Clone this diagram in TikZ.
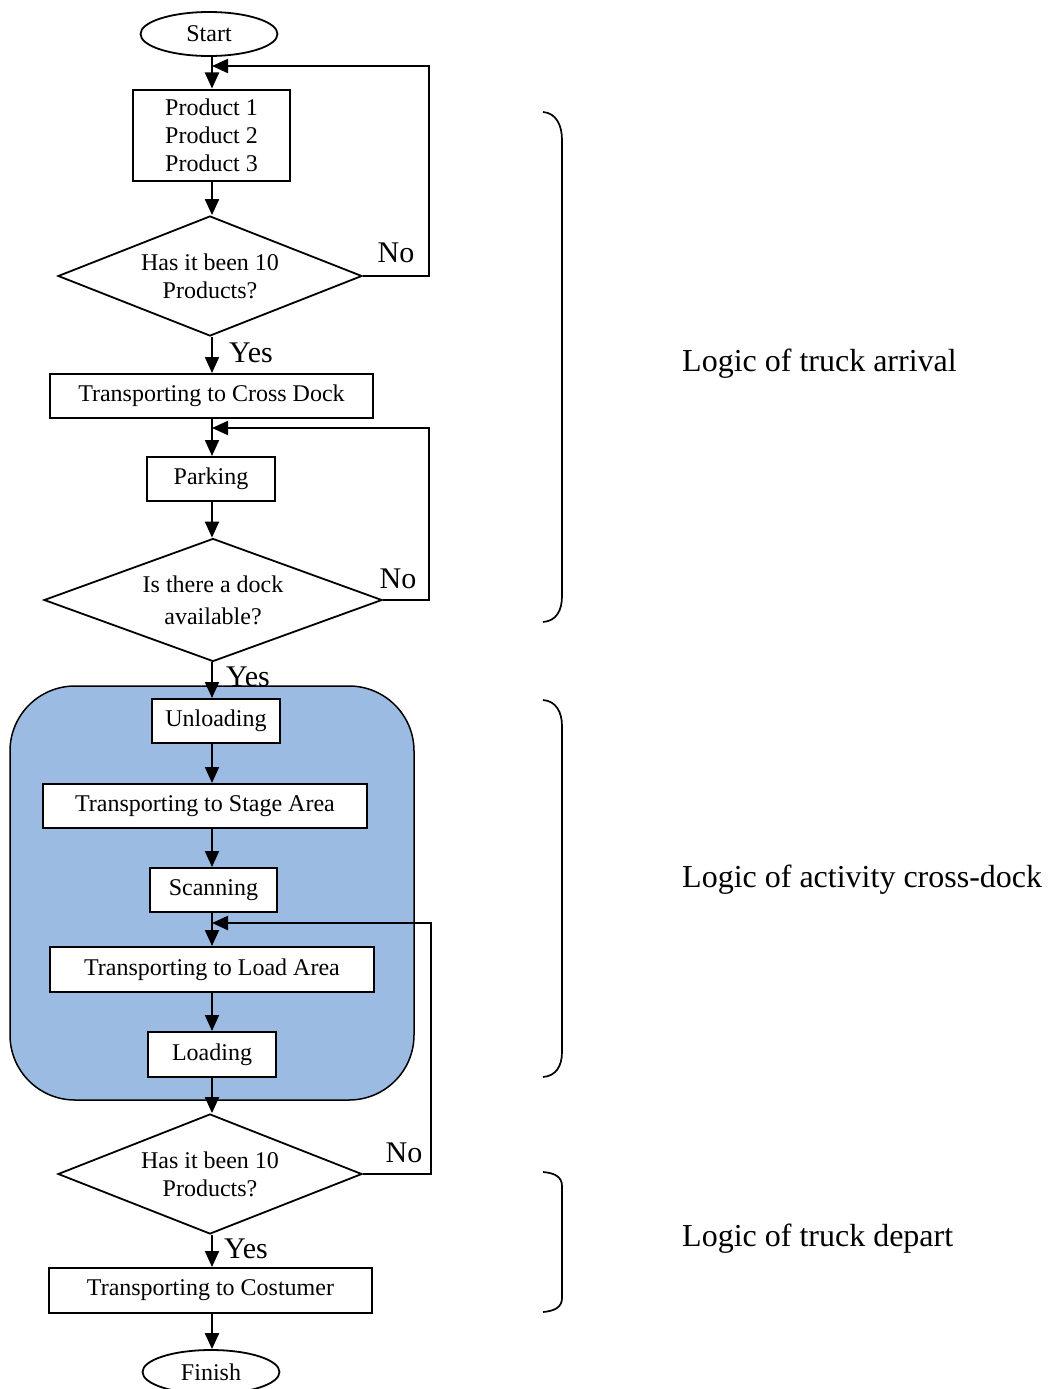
\documentclass[tikz,border=0pt]{standalone}
\usepackage{fontspec}
\setmainfont{Liberation Serif}
\usetikzlibrary{shapes.geometric,arrows.meta}
\definecolor{zoneblue}{HTML}{9BBBE3}

\tikzset{
  box/.style={draw, line width=2pt, fill=white, inner sep=0pt, align=center,
    font=\fontsize{24}{28}\selectfont},
  decision/.style={diamond, draw, line width=1.8pt, fill=white, inner sep=0pt,
    align=center, font=\fontsize{24}{28}\selectfont},
  terminal/.style={ellipse, draw, line width=1.8pt, fill=white, inner sep=0pt,
    minimum width=137pt, minimum height=44pt, font=\fontsize{24}{26}\selectfont},
  flow/.style={line width=2.1pt, -{Triangle[length=16pt,width=14pt]}},
  answer/.style={font=\fontsize{30}{32}\selectfont, inner sep=0pt},
  logic/.style={font=\fontsize{32}{34}\selectfont, anchor=west, inner sep=0pt},
  bracket/.style={line width=1.7pt},
  zone/.style={draw, line width=1.5pt, fill=zoneblue, rounded corners=65pt,
    minimum width=404pt, minimum height=414pt}
}

\begin{document}
\begin{tikzpicture}[x=1pt, y=-1pt]
\useasboundingbox (0,0) rectangle (1048,1389);

% cross-dock activity zone
\node[zone] (zone) at (212,893) {};

% flow nodes
\node[terminal] (start) at (209,34) {Start};
\node[box, minimum width=157pt, minimum height=91pt] (prod) at (211.5,135)
  {Product 1\\Product 2\\Product 3};
\node[decision, aspect=2.5, minimum width=304pt, minimum height=120pt] (d1) at (210,276)
  {Has it been 10\\Products?};
\node[box, minimum width=323pt, minimum height=44pt] (tcd) at (211.5,396) {Transporting to Cross Dock};
\node[box, minimum width=128pt, minimum height=44pt] (park) at (211,479) {Parking};
\node[decision, aspect=2.75, minimum width=338pt, minimum height=123pt,
  font=\fontsize{24}{32}\selectfont] (d2) at (213,600)
  {Is there a dock\\available?};
\node[box, minimum width=128pt, minimum height=44pt] (unl) at (216,721) {Unloading};
\node[box, minimum width=324pt, minimum height=44pt] (tsa) at (205,806) {Transporting to Stage Area};
\node[box, minimum width=127pt, minimum height=44pt] (scan) at (213.5,890) {Scanning};
\node[box, minimum width=324pt, minimum height=45pt] (tla) at (212,969.5) {Transporting to Load Area};
\node[box, minimum width=128pt, minimum height=45pt] (load) at (212,1054.5) {Loading};
\node[decision, aspect=2.5, minimum width=304pt, minimum height=120pt] (d3) at (210,1174)
  {Has it been 10\\Products?};
\node[box, minimum width=323pt, minimum height=45pt] (tcu) at (210.5,1290.5) {Transporting to Costumer};
\node[terminal] (finish) at (211,1372) {Finish};

% junctions where the loops rejoin the main line
\coordinate (j1) at (212,66);
\coordinate (j2) at (212,428);
\coordinate (j3) at (212,923);

% main flow
\draw[flow] (start.south -| j1) -- (prod.north -| j1);
\draw[flow] (prod.south -| j1) -- (d1.north -| j1);
\draw[flow] (d1.south -| j1) -- (tcd.north -| j1);
\draw[flow] (tcd.south -| j1) -- (park.north -| j1);
\draw[flow] (park.south -| j1) -- (d2.north -| j1);
\draw[flow] (d2.south -| j1) -- (unl.north -| j1);
\draw[flow] (unl.south -| j1) -- (tsa.north -| j1);
\draw[flow] (tsa.south -| j1) -- (scan.north -| j1);
\draw[flow] (scan.south -| j1) -- (tla.north -| j1);
\draw[flow] (tla.south -| j1) -- (load.north -| j1);
\draw[flow] (load.south -| j1) -- (d3.north -| j1);
\draw[flow] (d3.south -| j1) -- (tcu.north -| j1);
\draw[flow] (tcu.south -| j1) -- (finish.north -| j1);

% "No" loops
\draw[flow] (d1.east) -- ++(66,0) |- (j1);
\draw[flow] (d2.east) -- ++(46,0) |- (j2);
\draw[flow] (d3.east) -- ++(68,0) |- (j3);

% answer labels
\node[answer] (no1) at (396,253) {No};
\node[answer] (yes1) at (251,353) {Yes};
\node[answer] (no2) at (398,579) {No};
\node[answer] (yes2) at (248,677) {Yes};
\node[answer] (no3) at (404,1153) {No};
\node[answer] (yes3) at (246,1249) {Yes};

% grouping brackets
\draw[bracket] (543,112) .. controls (556,113) and (562,125) .. (562,140) -- (562,596)
  .. controls (562,611) and (556,621) .. (543,622);
\draw[bracket] (543,700) .. controls (556,701) and (562,712) .. (562,726) -- (562,1052)
  .. controls (562,1066) and (556,1076) .. (543,1077);
\draw[bracket] (543,1172) .. controls (555,1173) and (562,1177) .. (562,1186) -- (562,1298)
  .. controls (562,1307) and (555,1311) .. (543,1312);

% group captions
\node[logic] (lg1) at (682,364) {Logic of truck arrival};
\node[logic] (lg2) at (682,880) {Logic of activity cross-dock};
\node[logic] (lg3) at (682,1239) {Logic of truck depart};
\end{tikzpicture}
\end{document}
